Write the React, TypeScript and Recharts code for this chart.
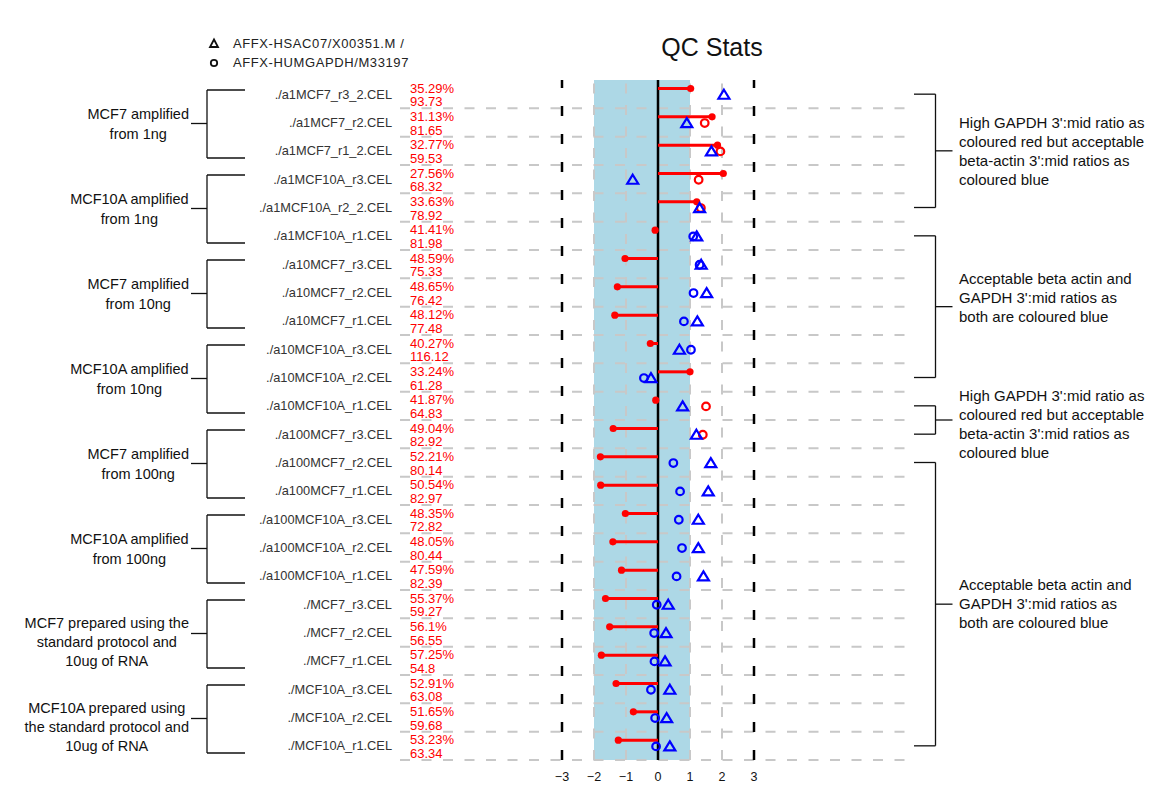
import React from "react";
import { ScatterChart, Scatter, XAxis, YAxis, ReferenceLine, ReferenceArea } from "recharts";

const samples = [
  "./a1MCF7_r3_2.CEL", "./a1MCF7_r2.CEL", "./a1MCF7_r1_2.CEL",
  "./a1MCF10A_r3.CEL", "./a1MCF10A_r2_2.CEL", "./a1MCF10A_r1.CEL",
  "./a10MCF7_r3.CEL", "./a10MCF7_r2.CEL", "./a10MCF7_r1.CEL",
  "./a10MCF10A_r3.CEL", "./a10MCF10A_r2.CEL", "./a10MCF10A_r1.CEL",
  "./a100MCF7_r3.CEL", "./a100MCF7_r2.CEL", "./a100MCF7_r1.CEL",
  "./a100MCF10A_r3.CEL", "./a100MCF10A_r2.CEL", "./a100MCF10A_r1.CEL",
  "./MCF7_r3.CEL", "./MCF7_r2.CEL", "./MCF7_r1.CEL",
  "./MCF10A_r3.CEL", "./MCF10A_r2.CEL", "./MCF10A_r1.CEL",
];
const percentPresent = [
  35.29, 31.13, 32.77, 27.56, 33.63, 41.41, 48.59, 48.65, 48.12, 40.27, 33.24, 41.87,
  49.04, 52.21, 50.54, 48.35, 48.05, 47.59, 55.37, 56.1, 57.25, 52.91, 51.65, 53.23,
];
const background = [
  93.73, 81.65, 59.53, 68.32, 78.92, 81.98, 75.33, 76.42, 77.48, 116.12, 61.28, 64.83,
  82.92, 80.14, 82.97, 72.82, 80.44, 82.39, 59.27, 56.55, 54.8, 63.08, 59.68, 63.34,
];
const scaleFactor = [
  1.02, 1.69, 1.86, 2.04, 1.21, -0.09, -1.03, -1.27, -1.35, -0.24, 1.0, -0.07,
  -1.4, -1.8, -1.79, -1.02, -1.41, -1.14, -1.64, -1.51, -1.77, -1.31, -0.77, -1.24,
];
const actinRatio = [
  2.06, 0.9, 1.67, -0.79, 1.3, 1.21, 1.35, 1.52, 1.23, 0.67, -0.22, 0.77,
  1.2, 1.65, 1.57, 1.26, 1.26, 1.42, 0.32, 0.25, 0.22, 0.37, 0.27, 0.37,
];
const gapdhRatio: (number | null)[] = [
  null, 1.46, 1.95, 1.27, 1.34, 1.1, 1.3, 1.11, 0.81, 1.03, -0.44, 1.5,
  1.4, 0.48, 0.69, 0.65, 0.75, 0.58, -0.04, -0.12, -0.11, -0.22, -0.09, -0.06,
];
const gapdhFlagged = [
  true, true, true, true, true, false, false, false, false, false, false, true,
  true, false, false, false, false, false, false, false, false, false, false, false,
];
const xTicks = [-3, -2, -1, 0, 1, 2, 3];
const leftGroups = [
  ["MCF7 amplified", "from 1ng"],
  ["MCF10A amplified", "from 1ng"],
  ["MCF7 amplified", "from 10ng"],
  ["MCF10A amplified", "from 10ng"],
  ["MCF7 amplified", "from 100ng"],
  ["MCF10A amplified", "from 100ng"],
  ["MCF7 prepared using the", "standard protocol and", "10ug of RNA"],
  ["MCF10A prepared using", "the standard protocol and", "10ug of RNA"],
];
const rightGroups = [
  { from: 0, to: 4, lines: ["High GAPDH 3':mid ratio as", "coloured red but acceptable", "beta-actin 3':mid ratios as", "coloured blue"] },
  { from: 5, to: 10, lines: ["Acceptable beta actin and", "GAPDH 3':mid ratios as", "both are coloured blue"] },
  { from: 11, to: 12, lines: ["High GAPDH 3':mid ratio as", "coloured red but acceptable", "beta-actin 3':mid ratios as", "coloured blue"] },
  { from: 13, to: 23, lines: ["Acceptable beta actin and", "GAPDH 3':mid ratios as", "both are coloured blue"] },
];
const legendItems = ["AFFX-HSAC07/X00351.M /", "AFFX-HUMGAPDH/M33197"];

const FONT = "'Liberation Sans', Arial, Helvetica, sans-serif";
const CHART_W = 1159;
const CHART_H = 795;
const MARGIN = { top: 80, right: 0, bottom: 5, left: 0 };
const LEFT_W = 400;
const RIGHT_W = 249;
const XAXIS_H = 30;
const PLOT_H = CHART_H - MARGIN.top - MARGIN.bottom - XAXIS_H;
const N = samples.length;
const ROW_H = PLOT_H / N;
const PX_PER_UNIT = 32;
const PLOT_W = CHART_W - LEFT_W - RIGHT_W;
const X_MIN = -(658 - LEFT_W) / PX_PER_UNIT;
const X_MAX = X_MIN + PLOT_W / PX_PER_UNIT;

const RED = "#ff0000";
const BLUE = "#0000ff";
const GRAY = "#c8c8c8";
const GROUP_FS = 14.5;
const NOTE_FS = 15;
const rightTextShift = [0, -9, 4, 0];

const SF_OFF = 0.3;
const PT_OFF = 0.52;

const rowTicks = samples.map((_, i) => i + 0.5);
const sfData = scaleFactor.map((v, i) => ({ x: v, y: i + SF_OFF }));
const actinData = actinRatio.map((v, i) => ({ x: v, y: i + PT_OFF }));
const gapdhData = gapdhRatio
  .map((v, i) => (v === null ? null : { x: v, y: i + PT_OFF, flagged: gapdhFlagged[i] }))
  .filter(Boolean) as { x: number; y: number; flagged: boolean }[];
const rightTicks = rightGroups.map((g) => (g.from + g.to) / 2 + 0.5);

let measureCtx: CanvasRenderingContext2D | null = null;
const measure = (s: string, size: number) => {
  if (!measureCtx && typeof document !== "undefined") {
    measureCtx = document.createElement("canvas").getContext("2d");
  }
  if (!measureCtx) return s.length * size * 0.52;
  measureCtx.font = `${size}px "Liberation Sans", Arial, sans-serif`;
  return measureCtx.measureText(s).width;
};

const LeftTick = (props: any) => {
  const { x, y, payload } = props;
  const i = Math.floor(payload.value);
  const els: React.ReactNode[] = [];
  els.push(
    <text key="s" x={x} y={y} dy="0.35em" textAnchor="end" fontSize={12.8} fill="#333" fontFamily={FONT}>
      {samples[i]}
    </text>
  );
  els.push(
    <text key="p" x={x + 18} y={y - 6} dy="0.35em" textAnchor="start" fontSize={13} fill={RED} fontFamily={FONT}>
      {`${percentPresent[i]}%`}
    </text>
  );
  els.push(
    <text key="b" x={x + 18} y={y + 7.5} dy="0.35em" textAnchor="start" fontSize={13} fill={RED} fontFamily={FONT}>
      {`${background[i]}`}
    </text>
  );
  if (i % 3 === 1) {
    const g = (i - 1) / 3;
    const top = y - 32.5;
    const bot = y + 35.5;
    const bx = 207;
    const lines = leftGroups[g];
    const lh = lines.length === 3 ? 19 : 20;
    const cy = lines.length === 3 ? y + 9 : y + 1;
    const maxW = Math.max(...lines.map((l) => measure(l, GROUP_FS)));
    const tcx = 189 - maxW / 2;
    els.push(
      <g key="br" stroke="#111" strokeWidth={1.3} fill="none">
        <line x1={bx} y1={top} x2={bx} y2={bot} />
        <line x1={bx} y1={top} x2={245} y2={top} />
        <line x1={bx} y1={bot} x2={245} y2={bot} />
        <line x1={191} y1={y + 1} x2={bx} y2={y + 1} />
      </g>
    );
    lines.forEach((ln, k) => {
      els.push(
        <text key={"g" + k} x={tcx} y={cy + (k - (lines.length - 1) / 2) * lh} dy="0.35em" textAnchor="middle" fontSize={GROUP_FS} fill="#111" fontFamily={FONT}>
          {ln}
        </text>
      );
    });
  }
  return <g>{els}</g>;
};

const RightTick = (props: any) => {
  const { y, index } = props;
  const g = rightGroups[index];
  if (!g) return null;
  const half = ((g.to - g.from) / 2) * ROW_H;
  const top = y - half;
  const bot = y + half;
  const vx = 935.5;
  const lh = 19;
  const ty = y + rightTextShift[index];
  return (
    <g>
      <g stroke="#111" strokeWidth={1.3} fill="none">
        <line x1={914} y1={top} x2={vx} y2={top} />
        <line x1={914} y1={bot} x2={vx} y2={bot} />
        <line x1={vx} y1={top} x2={vx} y2={bot} />
        <line x1={vx} y1={y} x2={952.5} y2={y} />
      </g>
      {g.lines.map((ln, k) => (
        <text key={k} x={959} y={ty + (k - (g.lines.length - 1) / 2) * lh} dy="0.35em" fontSize={NOTE_FS} fill="#111" fontFamily={FONT}>
          {ln}
        </text>
      ))}
    </g>
  );
};

const Triangle = (props: any) => {
  const { cx, cy } = props;
  if (cx == null || cy == null) return null;
  const d = `M${cx},${cy - 5} L${cx + 5.5},${cy + 4} L${cx - 5.5},${cy + 4} Z`;
  return <path d={d} fill="none" stroke={BLUE} strokeWidth={2.2} />;
};
const Ring = (props: any) => {
  const { cx, cy, payload } = props;
  if (cx == null || cy == null) return null;
  return <circle cx={cx} cy={cy} r={3.8} fill="none" stroke={payload.flagged ? RED : BLUE} strokeWidth={2.2} />;
};
const Dot = (props: any) => {
  const { cx, cy } = props;
  if (cx == null || cy == null) return null;
  return <circle cx={cx} cy={cy} r={3.6} fill={RED} />;
};

export default function App() {
  return (
    <div style={{ position: "absolute", left: 0, top: 0, width: CHART_W, height: CHART_H, background: "#fff", fontFamily: FONT }}>
      <ScatterChart width={CHART_W} height={CHART_H} margin={MARGIN}>
        <XAxis
          xAxisId="x"
          type="number"
          dataKey="x"
          domain={[X_MIN, X_MAX]}
          ticks={xTicks}
          interval={0}
          axisLine={false}
          tickLine={false}
          tickMargin={6}
          height={XAXIS_H}
          allowDataOverflow
          tickFormatter={(v: number) => (v < 0 ? `\u2212${-v}` : `${v}`)}
          tick={{ fontSize: 12.5, fill: "#111", fontFamily: FONT }}
        />
        <YAxis
          yAxisId="left"
          type="number"
          dataKey="y"
          domain={[0, N]}
          reversed
          ticks={rowTicks}
          interval={0}
          width={LEFT_W}
          axisLine={false}
          tickLine={false}
          allowDataOverflow
          tick={<LeftTick />}
        />
        <YAxis
          yAxisId="right"
          orientation="right"
          type="number"
          dataKey="y"
          domain={[0, N]}
          reversed
          ticks={rightTicks}
          interval={0}
          width={RIGHT_W}
          axisLine={false}
          tickLine={false}
          allowDataOverflow
          tick={<RightTick />}
        />
        <ReferenceArea xAxisId="x" yAxisId="left" x1={-2} x2={1} y1={0} y2={N} fill="#add8e6" fillOpacity={1} stroke="none" />
        {samples.map((_, i) => (
          <ReferenceLine key={"h" + i} xAxisId="x" yAxisId="left" y={i + 1} stroke={GRAY} strokeWidth={2} strokeDasharray="10 11.5" />
        ))}
        {[-2, -1, 1, 2].map((v) => (
          <ReferenceLine key={"gv" + v} xAxisId="x" yAxisId="left" x={v} stroke={GRAY} strokeWidth={2} strokeDasharray="10 11.5" />
        ))}
        {[-3, 3].map((v) => (
          <ReferenceLine key={"bv" + v} xAxisId="x" yAxisId="left" x={v} stroke="#000" strokeWidth={2.5} strokeDasharray="10 18" />
        ))}
        <ReferenceLine xAxisId="x" yAxisId="left" x={0} stroke="#000" strokeWidth={2.5} />
        {scaleFactor.map((v, i) => (
          <ReferenceLine
            key={"sf" + i}
            xAxisId="x"
            yAxisId="left"
            segment={[{ x: 0, y: i + SF_OFF }, { x: v, y: i + SF_OFF }]}
            stroke={RED}
            strokeWidth={3}
          />
        ))}
        <Scatter xAxisId="x" yAxisId="left" data={sfData} shape={<Dot />} isAnimationActive={false} />
        <Scatter xAxisId="x" yAxisId="left" data={gapdhData} shape={<Ring />} isAnimationActive={false} />
        <Scatter xAxisId="x" yAxisId="left" data={actinData} shape={<Triangle />} isAnimationActive={false} />
      </ScatterChart>
      <div style={{ position: "absolute", left: 612, top: 33, width: 200, textAlign: "center", fontSize: 25, lineHeight: "28px", color: "#111" }}>
        QC Stats
      </div>
      <svg style={{ position: "absolute", left: 206, top: 36 }} width={18} height={36}>
        <path d="M8,3.5 L12,11 L4,11 Z" fill="none" stroke="#111" strokeWidth={1.8} />
        <circle cx={8} cy={27} r={3.2} fill="none" stroke="#111" strokeWidth={1.8} />
      </svg>
      {legendItems.map((t, k) => (
        <div
          key={k}
          style={{ position: "absolute", left: 233, top: 36 + k * 19, whiteSpace: "nowrap", fontSize: 13, letterSpacing: "0.6px", lineHeight: "16px", color: "#222" }}
        >
          {t}
        </div>
      ))}
    </div>
  );
}
